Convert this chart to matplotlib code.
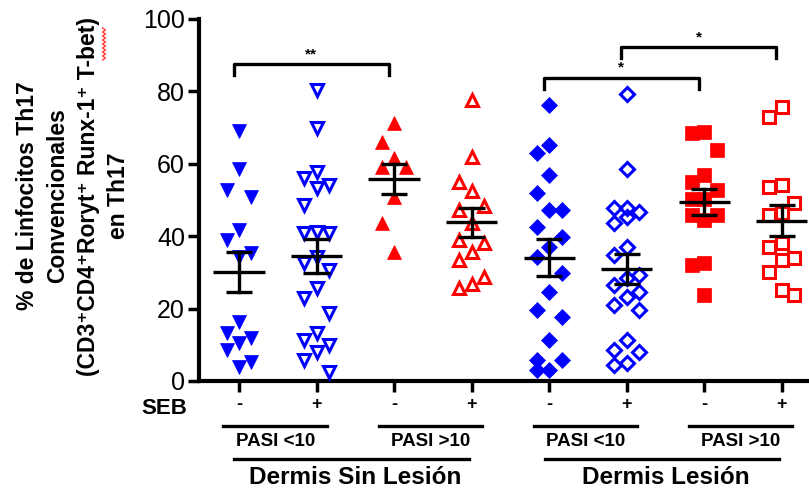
import numpy
import matplotlib
matplotlib.use('Agg')
import matplotlib.pyplot as plt
from matplotlib import transforms

plt.rcParams['font.family'] = ['Liberation Sans', 'DejaVu Sans']

# values (%)
sin_pasi_low_neg = [69.0, 58.5, 52.8, 50.9, 41.7, 38.9, 35.4, 34.3, 16.4, 13.2, 11.8, 10.4, 8.6, 5.3, 4.0]
sin_pasi_low_pos = [80.4, 69.8, 57.8, 56.0, 54.1, 53.2, 48.6, 41.2, 40.8, 40.8, 34.3, 32.5, 30.7,
                    25.6, 22.8, 18.7, 13.2, 11.3, 9.9, 8.1, 5.8, 2.6]
sin_pasi_high_neg = [71.2, 66.1, 61.5, 59.0, 59.0, 50.9, 43.6, 35.7]
sin_pasi_high_pos = [77.6, 61.8, 55.1, 52.6, 48.3, 47.2, 43.6, 38.9, 38.0, 35.7, 33.4, 28.8, 26.8, 25.6]
les_pasi_low_neg = [76.2, 65.2, 62.9, 56.9, 51.9, 47.2, 47.2, 42.6, 39.9, 37.1, 34.3, 29.7, 24.7,
                    19.6, 17.8, 11.3, 5.8, 5.8, 3.0, 3.0]
les_pasi_low_pos = [79.3, 58.5, 47.8, 47.7, 46.8, 45.2, 43.6, 37.1, 34.8, 29.3, 28.4, 26.5, 24.7,
                    23.3, 21.0, 19.6, 11.3, 8.6, 8.1, 4.9, 4.4]
les_pasi_high_neg = [68.9, 68.4, 63.8, 56.9, 55.1, 52.8, 50.3, 50.3, 45.9, 45.9, 44.5, 32.5, 32.0, 23.8]
les_pasi_high_pos = [75.8, 73.0, 54.1, 53.7, 49.1, 46.3, 45.9, 38.0, 37.1, 33.9, 33.4, 30.2, 25.1, 23.8]

groups = [sin_pasi_low_neg, sin_pasi_low_pos, sin_pasi_high_neg, sin_pasi_high_pos,
          les_pasi_low_neg, les_pasi_low_pos, les_pasi_high_neg, les_pasi_high_pos]
seb_labels = ['-', '+', '-', '+', '-', '+', '-', '+']
pasi_labels = ['PASI <10', 'PASI >10', 'PASI <10', 'PASI >10']
dermis_labels = ['Dermis Sin Lesión', 'Dermis Lesión']

# (first group, second group, height, stars)
brackets = [(1, 3, 87.5, '**'), (5, 7, 83.8, '*'), (6, 8, 92.3, '*')]

blue = '#0000ff'
red = '#ff0000'
# marker, color, filled
styles = [('v', blue, True), ('v', blue, False), ('^', red, True), ('^', red, False),
          ('D', blue, True), ('D', blue, False), ('s', red, True), ('s', red, False)]


def spread(vals, step=0.16, gap=8.0):
    # graphpad-ish column scatter, three columns, no randomness
    vals = numpy.asarray(vals)
    order = numpy.argsort(-vals, kind='stable')
    offs = numpy.zeros(len(vals))
    cols = {-1: [], 0: [], 1: []}
    for i in order:
        dist = {}
        for k in [0, -1, 1]:
            dist[k] = min([abs(vals[i] - v) for v in cols[k]] + [999])
        free = [k for k in [0, -1, 1] if dist[k] >= gap]
        if free:
            k = free[0]
        else:
            k = max([-1, 1, 0], key=lambda c: dist[c])
        cols[k].append(vals[i])
        offs[i] = k * step
    return offs


fig = plt.figure(figsize=(8.09, 4.95), dpi=100)
ax = fig.add_axes([199 / 809., 114 / 495., 610 / 809., 362 / 495.])

for i, vals in enumerate(groups):
    pos = i + 1
    marker, color, filled = styles[i]
    x = pos + spread(vals)
    ms = 8.5 if marker == 'D' else 10.5
    if filled:
        ax.plot(x, vals, marker, color=color, ms=ms, mec=color, mew=0.5, ls='none', zorder=3)
    else:
        ax.plot(x, vals, marker, mfc='none', mec=color, ms=ms - 1.5, mew=2.2, ls='none', zorder=3)

    m = numpy.mean(vals)
    sem = numpy.std(vals, ddof=1) / numpy.sqrt(len(vals))
    ax.plot([pos - 0.33, pos + 0.33], [m, m], color='k', lw=2.4, zorder=4, solid_capstyle='butt')
    ax.plot([pos, pos], [m - sem, m + sem], color='k', lw=2.4, zorder=4)
    for yy in [m - sem, m + sem]:
        ax.plot([pos - 0.17, pos + 0.17], [yy, yy], color='k', lw=2.4, zorder=4, solid_capstyle='butt')

# significance brackets
shift = -0.07
for a, b, h, stars in brackets:
    ax.plot([a + shift, a + shift, b + shift, b + shift], [h - 3, h, h, h - 3],
            color='k', lw=2.4, clip_on=False, zorder=5)
    ax.text((a + b) / 2. + shift, h + 0.8, stars, ha='center', va='bottom',
            fontsize=11, fontweight='bold')

ax.set_xlim(0.485, 8.35)
ax.set_ylim(0, 100)
ax.set_yticks([0, 20, 40, 60, 80, 100])
ax.set_xticks(range(1, 9))
ax.set_xticklabels(seb_labels, fontsize=13, fontweight='bold')
ax.spines['top'].set_visible(False)
ax.spines['right'].set_visible(False)
ax.spines['left'].set_linewidth(3)
ax.spines['bottom'].set_linewidth(3)
ax.tick_params(axis='y', length=8, width=2.5, labelsize=18, pad=2)
ax.tick_params(axis='x', length=8, width=2.5, pad=3)

fig.text(187 / 809., 1 - 409 / 495., 'SEB', ha='right', va='center', fontsize=16, fontweight='bold')

# group lines and labels under the axis
trans = transforms.blended_transform_factory(ax.transData, fig.transFigure)
for j, lab in enumerate(pasi_labels):
    a = 2 * j + 1
    b = a + 1
    ax.plot([a - 0.2, b + 0.13], [1 - 426 / 495.] * 2, color='k', lw=2.4,
            transform=trans, clip_on=False)
    ax.text((a + b) / 2. - 0.03, 1 - 442 / 495., lab, transform=trans, ha='center', va='center',
            fontsize=13.5, fontweight='bold')

for j, lab in enumerate(dermis_labels):
    a = 4 * j + 1
    b = a + 3
    ax.plot([a - 0.06, b - 0.04], [1 - 459 / 495.] * 2, color='k', lw=2.4,
            transform=trans, clip_on=False)
    ax.text((a + b) / 2., 1 - 477 / 495., lab, transform=trans, ha='center', va='center',
            fontsize=17.5, fontweight='bold')

ylab = ('% de Linfocitos Th17\nConvencionales\n'
        '(CD3\u207aCD4\u207aRoryt\u207a Runx-1\u207a T-bet)\nen Th17')
fig.text(73 / 809., 1 - 196 / 495., ylab, rotation=90, ha='center', va='center',
         fontsize=16.5, fontweight='bold', linespacing=1.4, multialignment='center')

# spell-check squiggle under "bet"
sq_y = numpy.linspace(28, 60, 17)
sq_x = 104 + 1.5 * numpy.where(numpy.arange(17) % 2 == 0, -1, 1)
fig.add_artist(plt.Line2D(sq_x / 809., 1 - sq_y / 495., color='#ff4040', lw=1.0))

fig.savefig('out.png', dpi=100)
